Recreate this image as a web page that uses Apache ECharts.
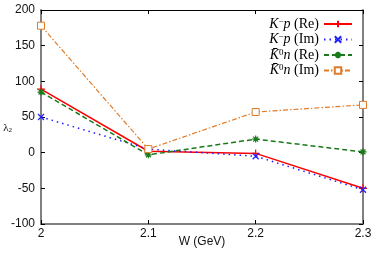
<!DOCTYPE html>
<html><head><meta charset="utf-8">
<script src="https://cdn.jsdelivr.net/npm/echarts@6/dist/echarts.min.js"></script>
<style>html,body{margin:0;padding:0;background:#fff}#c{width:374px;height:254px}</style>
</head><body><div id="c"></div>
<script>
const wValues = [2.0, 2.1, 2.2, 2.3];
const kmpRe = [89, 2, -1, -50];
const kmpIm = [50, 5, -5, -52];
const k0nRe = [85, -3, 19, 1];
const k0nIm = [178, 5, 57, 67];
const seriesNames = ['KmpRe', 'KmpIm', 'K0nRe', 'K0nIm'];
const xTicks = [2, 2.1, 2.2, 2.3];
const yTicks = [-100, -50, 0, 50, 100, 150, 200];

const legendText = {
  KmpRe: '{i|K}{sup|\u2212}{i|p}{t| (Re)}',
  KmpIm: '{i|K}{sup|\u2212}{i|p}{t| (Im)}',
  K0nRe: '{i|K\u0304}{sup|0}{i|n}{t| (Re)}',
  K0nIm: '{i|K\u0304}{sup|0}{i|n}{t| (Im)}'
};

const chart = echarts.init(document.getElementById('c'), null, {renderer: 'canvas'});
const pair = a => a.map((v, i) => [wValues[i], v]);
const plusPath = 'path://M0,5L10,5M5,0L5,10';
const crossPath = 'path://M0,0L10,10M10,0L0,10';
const starPath = 'path://M0,5L10,5M5,0L5,10M1.5,1.5L8.5,8.5M8.5,1.5L1.5,8.5';

const axisFont = {fontFamily: 'Liberation Sans', fontSize: 12, color: '#111'};

chart.setOption({
  animation: false,
  grid: {left: 41, right: 11, top: 10, bottom: 30, containLabel: false, outerBoundsMode: 'none'},
  legend: {
    orient: 'vertical', right: 16, top: 12, align: 'right',
    itemWidth: 28, itemHeight: 8, itemGap: 1.5,
    data: seriesNames,
    formatter: n => legendText[n],
    textStyle: {
      fontFamily: 'Liberation Serif', fontSize: 14, color: '#000', lineHeight: 14,
      rich: {
        i: {fontFamily: 'Liberation Serif', fontStyle: 'italic', fontSize: 14, lineHeight: 14, color: '#000'},
        t: {fontFamily: 'Liberation Serif', fontSize: 14, lineHeight: 14, color: '#000'},
        sup: {fontFamily: 'Liberation Serif', fontSize: 9, lineHeight: 14, color: '#000', verticalAlign: 'top'}
      }
    }
  },
  xAxis: [{
    type: 'value', min: 2, max: 2.3, interval: 0.1,
    name: 'W (GeV)', nameLocation: 'middle', nameGap: 12, nameMoveOverlap: false,
    nameTextStyle: Object.assign({verticalAlign: 'top'}, axisFont),
    axisLine: {onZero: false, lineStyle: {color: '#808080', width: 2}},
    axisTick: {inside: true, length: 4, lineStyle: {color: '#000'}},
    axisLabel: Object.assign({margin: 4, formatter: v => {
      const t = xTicks.find(x => Math.abs(x - v) < 1e-6);
      return t === undefined ? '' : String(t);
    }}, axisFont),
    splitLine: {show: false}
  }, {
    type: 'value', min: 2, max: 2.3, interval: 0.1, position: 'top',
    axisLine: {show: true, onZero: false, lineStyle: {color: '#000', width: 1}},
    axisTick: {inside: true, length: 4, lineStyle: {color: '#000'}},
    axisLabel: {show: false}, splitLine: {show: false}
  }],
  yAxis: [{
    type: 'value', min: -100, max: 200, interval: 50,
    name: '{a|λ}{s|2}', nameLocation: 'middle', nameRotate: 0, nameGap: 29, nameMoveOverlap: false,
    nameTextStyle: {align: 'right', padding: [22, 0, 0, 0], rich: {
      a: {fontFamily: 'Liberation Serif', fontSize: 11, color: '#000'},
      s: {fontFamily: 'Liberation Serif', fontSize: 7, color: '#000', padding: [5, 0, 0, 0]}
    }},
    axisLine: {show: true, onZero: false, lineStyle: {color: '#808080', width: 2}},
    axisTick: {inside: true, length: 4, lineStyle: {color: '#000'}},
    axisLabel: Object.assign({margin: 6, formatter: v => {
      const t = yTicks.find(y => Math.abs(y - v) < 1e-6);
      return t === undefined ? '' : String(t);
    }}, axisFont),
    splitLine: {show: false}
  }, {
    type: 'value', min: -100, max: 200, interval: 50, position: 'right',
    axisLine: {show: true, onZero: false, lineStyle: {color: '#808080', width: 2}},
    axisTick: {inside: true, length: 4, lineStyle: {color: '#000'}},
    axisLabel: {show: false}, splitLine: {show: false}
  }],
  series: [
    {name: 'KmpRe', type: 'line', data: pair(kmpRe), symbol: plusPath, symbolSize: 8,
     lineStyle: {color: '#ff0000', width: 1.5, type: 'solid'},
     itemStyle: {color: '#ff0000', borderColor: '#ff0000', borderWidth: 1.2}},
    {name: 'KmpIm', type: 'line', data: pair(kmpIm), symbol: crossPath, symbolSize: 6,
     lineStyle: {color: '#2020ff', width: 1.5, type: [1.5, 4]},
     itemStyle: {color: '#2020ff', borderColor: '#2020ff', borderWidth: 1.2}},
    {name: 'K0nRe', type: 'line', data: pair(k0nRe), symbol: starPath, symbolSize: 7,
     lineStyle: {color: '#1a7a1a', width: 1.5, type: [5, 3]},
     itemStyle: {color: '#1a7a1a', borderColor: '#1a7a1a', borderWidth: 1.2}},
    {name: 'K0nIm', type: 'line', data: pair(k0nIm), symbol: 'rect', symbolSize: 7,
     lineStyle: {color: '#e07b2a', width: 1.2, type: [5, 2, 1.5, 2]},
     itemStyle: {color: '#ffffff', borderColor: '#e07b2a', borderWidth: 1}}
  ]
});
</script></body></html>
